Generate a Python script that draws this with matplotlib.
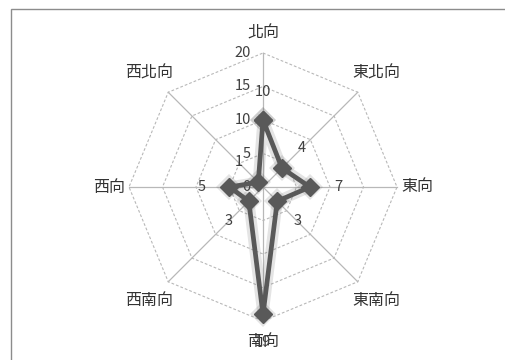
import numpy as np
import matplotlib
matplotlib.use("Agg")
import matplotlib.pyplot as plt
from matplotlib.patches import Rectangle

plt.rcParams['font.family'] = ['Noto Sans CJK TC', 'DejaVu Sans']

# Wind-direction counts
directions = ['北向', '東北向', '東向', '東南向', '南向', '西南向', '西向', '西北向']
counts = [10, 4, 7, 3, 19, 3, 5, 1]
ring_levels = [5, 10, 15, 20]
tick_labels = ['0', '5', '10', '15', '20']

R_MAX = 20
n = len(directions)
# north at top, clockwise
theta = np.pi / 2 - np.arange(n) * 2 * np.pi / n
ux, uy = np.cos(theta), np.sin(theta)

W, H = 506, 360
fig = plt.figure(figsize=(W / 100, H / 100), dpi=100)
ax = fig.add_axes([0, 0, 1, 1])
cx, cy, rpx = 263, 360 - 187, 134
scale = R_MAX / rpx
ax.set_xlim(-cx * scale, (W - cx) * scale)
ax.set_ylim(-cy * scale, (H - cy) * scale)
ax.axis('off')

# outer chart-area frame
fig.patches.append(Rectangle((11 / W, -0.1), 1.2, (H - 9) / H + 0.1,
                             transform=fig.transFigure, fill=False,
                             edgecolor='#8c8c8c', linewidth=1.0))

grid_col = '#b8b8b8'
# spokes
for x, y in zip(ux, uy):
    ax.plot([0, R_MAX * x], [0, R_MAX * y], color=grid_col, lw=0.9, zorder=1)
# octagonal rings
for r in ring_levels:
    xs = np.append(r * ux, r * ux[0])
    ys = np.append(r * uy, r * uy[0])
    ax.plot(xs, ys, color=grid_col, lw=0.8, ls=(0, (2.5, 1.8)), zorder=1)

# radial tick labels along the north spoke
for i, t in enumerate(tick_labels):
    ax.text(-1.8, i * 5, t, ha='right', va='center', fontsize=10.5,
            color='#404040', zorder=3)

# category labels
for i, (name, x, y) in enumerate(zip(directions, ux, uy)):
    r = 23.0 if i % 2 == 0 else 24.0
    ax.text(r * x, r * y, name, ha='center', va='center', fontsize=11.5,
            color='#333333', zorder=3)

# data series
v = np.array(counts, dtype=float)
px = np.append(v * ux, v[0] * ux[0])
py = np.append(v * uy, v[0] * uy[0])
# soft glow beneath the series
ax.plot(px, py, color='#595959', lw=8, alpha=0.16, solid_joinstyle='round',
        marker='D', markersize=13, markeredgewidth=0, zorder=4)
ax.plot(px, py, color='#595959', lw=3.4, solid_joinstyle='miter',
        marker='D', markersize=9.5, markerfacecolor='#595959',
        markeredgecolor='#595959', zorder=5)

# value labels
for val, x, y in zip(counts, ux, uy):
    r = val + 4.2
    ax.text(r * x, r * y, str(val), ha='center', va='center', fontsize=10.5,
            color='#404040', zorder=6)

fig.savefig('out.png', dpi=100)
